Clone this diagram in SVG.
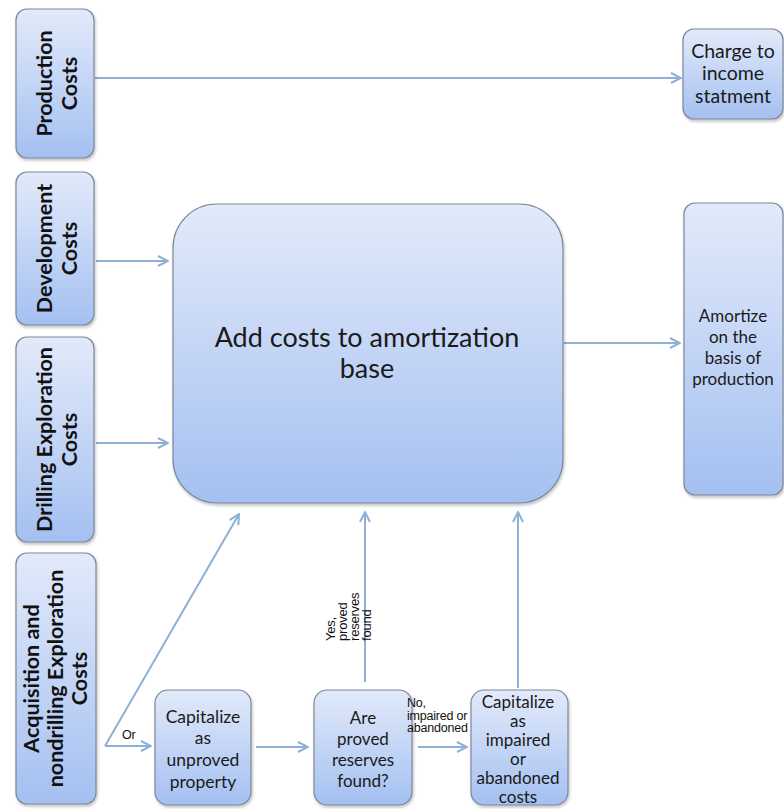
<svg xmlns="http://www.w3.org/2000/svg" width="784" height="809" viewBox="0 0 784 809">
  <defs>
    <linearGradient id="fillBlue" x1="0" y1="0" x2="0" y2="1">
      <stop offset="0" stop-color="#e2eafa"/>
      <stop offset="1" stop-color="#a4c0f1"/>
    </linearGradient>
    <filter id="shadow" x="-10%" y="-10%" width="130%" height="130%">
      <feGaussianBlur in="SourceAlpha" stdDeviation="1.5"/>
      <feOffset dx="1" dy="2" result="b"/>
      <feComponentTransfer><feFuncA type="linear" slope="0.25"/></feComponentTransfer>
      <feMerge><feMergeNode/><feMergeNode in="SourceGraphic"/></feMerge>
    </filter>
    <marker id="arrow" viewBox="0 0 12 12" refX="11" refY="6" markerWidth="12" markerHeight="12" markerUnits="userSpaceOnUse" orient="auto">
      <path d="M1,1 L11,6 L1,11" fill="none" stroke="#8fb0d6" stroke-width="2"/>
    </marker>
  </defs>
  <style>
    .box { fill: url(#fillBlue); stroke: #7d8799; stroke-width: 1.2; filter: url(#shadow); }
    .side { font-family: Lato, "Liberation Sans", sans-serif; font-weight: bold; font-size: 21.5px; fill: #111; text-anchor: middle; }
    .lbl { font-family: Lato, "Liberation Sans", sans-serif; font-size: 17px; fill: #1a1a1a; text-anchor: middle; }
    .big { font-family: Lato, "Liberation Sans", sans-serif; font-size: 27px; fill: #1a1a1a; text-anchor: middle; }
    .small { font-family: "Liberation Sans", sans-serif; font-size: 12.5px; fill: #111; letter-spacing: -0.2px; }
    .conn line { stroke: #8fb0d6; stroke-width: 2; fill: none; }
  </style>
  <rect width="784" height="809" fill="#ffffff"/>

  <!-- connectors -->
  <g id="connectors" class="conn">
    <line x1="95" y1="78" x2="681" y2="78" marker-end="url(#arrow)"/>
    <line x1="96" y1="261" x2="168" y2="261" marker-end="url(#arrow)"/>
    <line x1="96" y1="443" x2="168" y2="443" marker-end="url(#arrow)"/>
    <line x1="564" y1="343" x2="680" y2="343" marker-end="url(#arrow)"/>
    <line x1="105" y1="746" x2="239" y2="514" marker-end="url(#arrow)"/>
    <line x1="105" y1="746" x2="151" y2="746" marker-end="url(#arrow)"/>
    <line x1="256" y1="747" x2="308" y2="747" marker-end="url(#arrow)"/>
    <line x1="418" y1="747" x2="467" y2="747" marker-end="url(#arrow)"/>
    <line x1="365" y1="682" x2="365" y2="512" marker-end="url(#arrow)"/>
    <line x1="518" y1="688" x2="518" y2="512" marker-end="url(#arrow)"/>
  </g>

  <!-- left column: cost categories -->
  <g id="production-costs">
    <rect class="box" x="16" y="9" width="78" height="149" rx="11"/>
    <g transform="rotate(-90)">
      <text class="side" x="-83.5" y="52">Production</text>
      <text class="side" x="-83.5" y="77">Costs</text>
    </g>
  </g>
  <g id="development-costs">
    <rect class="box" x="16" y="172" width="78" height="153" rx="11"/>
    <g transform="rotate(-90)">
      <text class="side" x="-248.5" y="52">Development</text>
      <text class="side" x="-248.5" y="77">Costs</text>
    </g>
  </g>
  <g id="drilling-costs">
    <rect class="box" x="16" y="337" width="78" height="205" rx="11"/>
    <g transform="rotate(-90)">
      <text class="side" x="-439.5" y="52">Drilling Exploration</text>
      <text class="side" x="-439.5" y="77">Costs</text>
    </g>
  </g>
  <g id="acquisition-costs">
    <rect class="box" x="16" y="553" width="80" height="251" rx="11"/>
    <g transform="rotate(-90)">
      <text class="side" x="-678.5" y="39">Acquisition and</text>
      <text class="side" x="-678.5" y="63">nondrilling Exploration</text>
      <text class="side" x="-678.5" y="87">Costs</text>
    </g>
  </g>

  <!-- central amortization base -->
  <g id="amortization-base">
    <rect class="box" x="173" y="204" width="390" height="299" rx="44"/>
    <text class="big" x="367" y="347">Add costs to amortization</text>
    <text class="big" x="367" y="378">base</text>
  </g>

  <!-- right column: outcomes -->
  <g id="charge-income">
    <rect class="box" x="683" y="29" width="100" height="90" rx="11"/>
    <text class="lbl" x="733" y="58" style="font-size:19.5px">Charge to</text>
    <text class="lbl" x="733" y="80" style="font-size:19.5px">income</text>
    <text class="lbl" x="733" y="103" style="font-size:19.5px">statment</text>
  </g>
  <g id="amortize-production">
    <rect class="box" x="684" y="203" width="99" height="292" rx="11"/>
    <text class="lbl" x="733" y="322">Amortize</text>
    <text class="lbl" x="733" y="343">on the</text>
    <text class="lbl" x="733" y="364">basis of</text>
    <text class="lbl" x="733" y="385">production</text>
  </g>

  <!-- bottom row: acquisition path -->
  <g id="capitalize-unproved">
    <rect class="box" x="155" y="690" width="96" height="115" rx="13"/>
    <text class="lbl" x="203" y="723" style="font-size:17.5px">Capitalize</text>
    <text class="lbl" x="203" y="744" style="font-size:17.5px">as</text>
    <text class="lbl" x="203" y="766" style="font-size:17.5px">unproved</text>
    <text class="lbl" x="203" y="788" style="font-size:17.5px">property</text>
  </g>
  <g id="proved-reserves">
    <rect class="box" x="314" y="690" width="98" height="115" rx="13"/>
    <text class="lbl" x="363" y="724">Are</text>
    <text class="lbl" x="363" y="745">proved</text>
    <text class="lbl" x="363" y="766">reserves</text>
    <text class="lbl" x="363" y="787">found?</text>
  </g>
  <g id="capitalize-impaired">
    <rect class="box" x="471" y="690" width="97" height="115" rx="13"/>
    <text class="lbl" x="518" y="708">Capitalize</text>
    <text class="lbl" x="518" y="727">as</text>
    <text class="lbl" x="518" y="746">impaired</text>
    <text class="lbl" x="518" y="765">or</text>
    <text class="lbl" x="518" y="784">abandoned</text>
    <text class="lbl" x="518" y="803">costs</text>
  </g>

  <!-- connector labels -->
  <g id="connector-labels">
    <text class="small" x="122" y="739">Or</text>
    <text class="small" x="407" y="707">No,</text>
    <text class="small" x="407" y="719.5">impaired or</text>
    <text class="small" x="407" y="732">abandoned</text>
    <g transform="rotate(-90)">
      <text class="small" x="-641" y="335" style="font-size:13px">Yes,</text>
      <text class="small" x="-641" y="347" style="font-size:13px">proved</text>
      <text class="small" x="-641" y="359" style="font-size:13px">reserves</text>
      <text class="small" x="-641" y="371" style="font-size:13px">found</text>
    </g>
  </g>
</svg>
